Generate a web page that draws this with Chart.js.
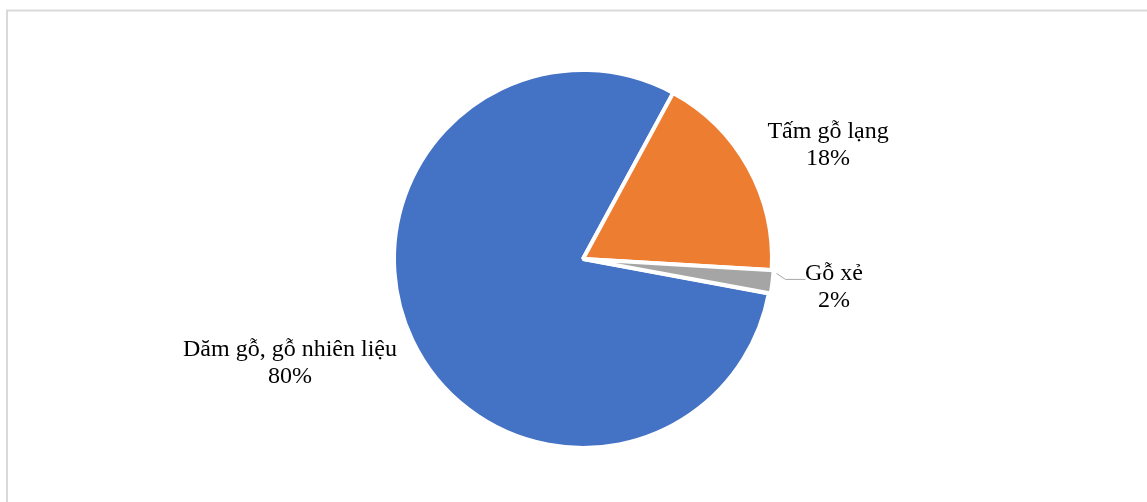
<!DOCTYPE html>
<html>
<head>
<meta charset="utf-8">
<script src="https://cdn.jsdelivr.net/npm/chart.js@4/dist/chart.umd.min.js"></script>
<style>
  html, body { margin: 0; padding: 0; background: #fff; }
  #wrap { width: 1147px; height: 502px; position: relative; }
</style>
</head>
<body>
<div id="wrap"><canvas id="pieChart" width="1147" height="502"></canvas></div>
<script>
// wood product shares (%)
const categories = ['Dăm gỗ, gỗ nhiên liệu', 'Tấm gỗ lạng', 'Gỗ xẻ'];
const shares = [80, 18, 2];
const sliceColors = ['#4472C4', '#ED7D31', '#A5A5A5'];

// label placement around the pie: angle shift (deg) and distance as a fraction of radius
const labelShift = [5.96, 4.15, -0.5];
const labelDist = [1.645, 1.43, 1.336];

const FONT = "24px 'Liberation Serif', 'Times New Roman', serif";
const LINE_GAP = 13.5;

// thin grey frame at top and left
const framePlugin = {
    id: 'frame',
    beforeDraw(chart) {
        const ctx = chart.ctx;
        ctx.save();
        ctx.strokeStyle = '#d9d9d9';
        ctx.lineWidth = 2;
        ctx.beginPath();
        ctx.moveTo(7, 502);
        ctx.lineTo(7, 10.5);
        ctx.lineTo(1147, 10.5);
        ctx.stroke();
        ctx.restore();
    }
};

// category name + percentage next to each slice
const sliceLabels = {
    id: 'sliceLabels',
    afterDatasetsDraw(chart) {
        const ctx = chart.ctx;
        const arcs = chart.getDatasetMeta(0).data;
        ctx.save();
        ctx.font = FONT;
        ctx.fillStyle = '#000';
        ctx.textAlign = 'center';
        ctx.textBaseline = 'middle';
        arcs.forEach((arc, i) => {
            const p = arc.getProps(['x', 'y', 'startAngle', 'endAngle', 'outerRadius'], true);
            const mid = (p.startAngle + p.endAngle) / 2;
            const a = mid + labelShift[i] * Math.PI / 180;
            const d = p.outerRadius * labelDist[i];
            const lx = p.x + Math.cos(a) * d;
            const ly = p.y + Math.sin(a) * d;
            ctx.fillText(categories[i], lx, ly - LINE_GAP);
            ctx.fillText(shares[i] + '%', lx, ly + LINE_GAP);

            // leader line for the small slice
            if (shares[i] < 5) {
                const off = arc.options.offset || 0;
                const sa = mid - 2.7 * Math.PI / 180;
                const sx = p.x + Math.cos(mid) * off + Math.cos(sa) * (p.outerRadius + 1);
                const sy = p.y + Math.sin(mid) * off + Math.sin(sa) * (p.outerRadius + 1);
                ctx.strokeStyle = '#a6a6a6';
                ctx.lineWidth = 1;
                ctx.beginPath();
                ctx.moveTo(sx, sy);
                ctx.lineTo(sx + 9, sy + 6);
                ctx.lineTo(sx + 29, sy + 6);
                ctx.stroke();
            }
        });
        ctx.restore();
    }
};

new Chart(document.getElementById('pieChart'), {
    type: 'pie',
    data: {
        labels: categories,
        datasets: [{
            data: shares,
            backgroundColor: sliceColors,
            borderColor: '#ffffff',
            borderWidth: 4,
            offset: [0, 0, 4]
        }]
    },
    options: {
        responsive: false,
        animation: false,
        rotation: 100.5,
        radius: 189,
        layout: { padding: { top: 72, bottom: 56, left: 300, right: 281 } },
        plugins: {
            legend: { display: false },
            tooltip: { enabled: false }
        }
    },
    plugins: [framePlugin, sliceLabels]
});
</script>
</body>
</html>
